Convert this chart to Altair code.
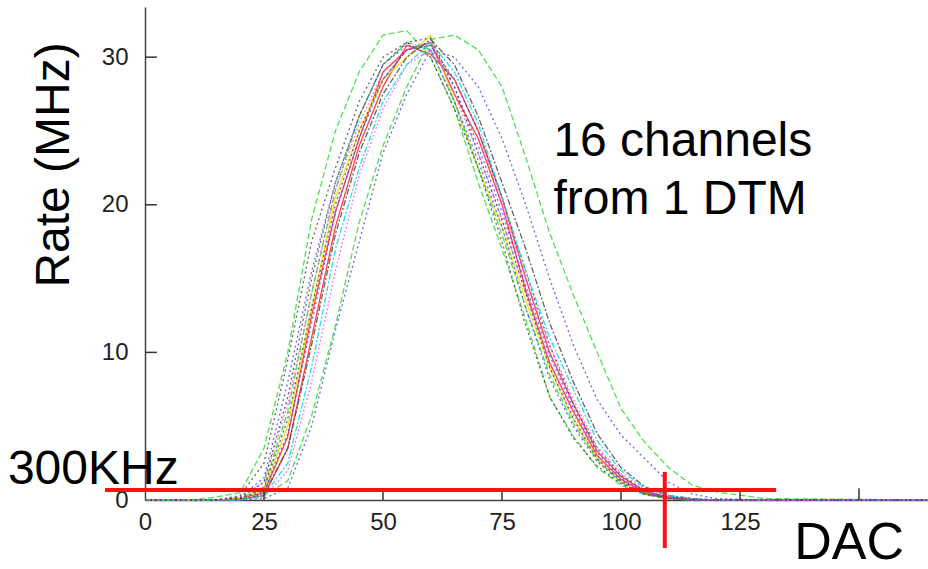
import altair as alt
import pandas as pd

# ---------------- data ----------------
DAC = [0, 10, 15, 20, 25, 30, 35, 40, 45, 50, 55, 60, 65, 70, 75, 80, 85, 90, 95, 100, 105, 110, 115, 120, 130, 165]

CH01 = [0, 0, 0, 0.1, 0.5, 4.3, 12.5, 19.5, 24.5, 29, 30.5, 31, 27.5, 24.5, 20, 14.2, 9.3, 6, 3, 1.4, 0.5, 0.15, 0.05, 0, 0, 0]
CH02 = [0, 0, 0, 0.05, 0.3, 3.5, 11, 18.5, 24, 28, 30.8, 30.2, 28.5, 25, 20.5, 15, 10, 6.5, 3.3, 1.6, 0.6, 0.2, 0.05, 0, 0, 0]
CH03 = [0, 0, 0, 0.1, 0.7, 5, 13, 20.5, 25, 28.5, 30, 31.5, 27, 22.5, 18.5, 13.5, 9, 5.5, 2.8, 1.2, 0.4, 0.1, 0, 0, 0, 0]
CH04 = [0, 0, 0.2, 0.5, 3.5, 10, 19, 25, 29, 31.5, 31.8, 30, 26.5, 21.5, 17, 12.2, 7, 4.3, 2.2, 1, 0.35, 0.1, 0, 0, 0, 0]
CH05 = [0, 0, 0, 0, 0.3, 1.3, 5.7, 11.8, 18.8, 24, 28, 31.2, 31.5, 30.5, 28, 23.2, 18.1, 13.9, 10, 6.2, 3.9, 2.2, 1, 0.55, 0.1, 0]
CH06 = [0, 0, 0, 0.1, 0.9, 6, 14, 21, 26, 29.5, 31, 30.5, 27, 22.5, 18, 13, 8.5, 5.2, 2.7, 1.2, 0.4, 0.1, 0, 0, 0, 0]
CH07 = [0, 0, 0, 0, 0.1, 0.8, 5, 11.5, 17.5, 23.5, 27.5, 30.5, 30, 28, 24.5, 20, 15, 10.5, 6.8, 4.4, 2.8, 1.2, 0.4, 0.1, 0, 0]
CH08 = [0, 0, 0, 0.2, 1.5, 8, 15.5, 21.5, 26, 29.5, 30.8, 30.5, 27, 23, 18.5, 13, 8.2, 5, 2.6, 1.2, 0.4, 0.1, 0, 0, 0, 0]
CH09 = [0, 0, 0, 0.1, 0.6, 4.5, 12, 19.5, 24.5, 28.5, 30.5, 30.8, 28, 24, 19.5, 14.5, 9.8, 6.2, 3.2, 1.5, 0.5, 0.15, 0, 0, 0, 0]
CH10 = [0, 0, 0, 0.3, 2.5, 9.5, 17.5, 22.5, 27, 30, 31, 30, 26.5, 22.5, 17.5, 11.8, 7, 4.2, 2.3, 1.1, 0.4, 0.1, 0, 0, 0, 0]
CH11 = [0, 0, 0, 0.1, 0.8, 5.5, 13, 20, 25, 28.5, 30.5, 30.8, 28.5, 25, 20.5, 15.5, 10.5, 6.5, 3.5, 1.7, 0.6, 0.2, 0.05, 0, 0, 0]
CH12 = [0, 0, 0, 0, 0.4, 3.5, 10.5, 18, 23.5, 27.5, 30, 31.2, 29.5, 26, 21.5, 17, 12, 8, 4.5, 2.2, 0.9, 0.3, 0.1, 0, 0, 0]
CH13 = [0, 0, 0, 0, 0.3, 2.5, 9, 17, 22.5, 27, 29.5, 31, 29, 25.5, 20.5, 15.5, 11, 7.5, 4, 2, 0.8, 0.3, 0.1, 0, 0, 0]
CH14 = [0, 0, 0, 0, 0.2, 2, 8, 15.5, 22, 26.5, 29.5, 30.5, 28.5, 25, 20, 15, 10.5, 6.8, 3.6, 1.8, 0.7, 0.2, 0.05, 0, 0, 0]
CH15 = [0, 0, 0, 0.2, 1.2, 6.5, 14, 21, 25.5, 29, 30.5, 31, 27.5, 23.5, 19, 14, 9.3, 5.8, 3, 1.4, 0.5, 0.15, 0, 0, 0, 0]
CH16 = [0, 0, 0, 0.15, 1.2, 7, 15, 21.5, 26, 29.5, 31, 31.3, 28, 23.5, 19, 14, 9, 5.5, 2.8, 1.3, 0.45, 0.12, 0, 0, 0, 0]

CHANNEL_NAMES = ["ch%02d" % i for i in range(1, 17)]
CHANNEL_VALUES = [CH01, CH02, CH03, CH04, CH05, CH06, CH07, CH08,
                  CH09, CH10, CH11, CH12, CH13, CH14, CH15, CH16]

Y_TICK_VALUES = [0, 10, 20, 30]
Y_INNER_TICKS = [10, 20, 30]
X_TICK_LABELS = [0, 25, 50, 75, 100, 125]
X_INNER_TICKS = [25, 50, 75, 100, 125, 150]

THRESHOLD_Y = 0.68        # 300 kHz line as drawn
THRESHOLD_X = 109.2       # DAC crossing marker

# ---------------- styles (kept apart from the data) ----------------
RED, YEL, GRN, BLU, BLK, CYN, MAG = "#ff2020", "#ecdc00", "#2fdc2f", "#4a4aff", "#4a4a4a", "#00d6ee", "#ff3cff"
SOLID, DASH, DOT, DASHDOT, FDOT = [1, 0], [6, 3], [2, 3], [6, 2, 2, 2], [1.5, 2.5]
STYLE = {
    "ch01": (RED, SOLID), "ch02": (RED, SOLID), "ch03": (YEL, SOLID),
    "ch04": (GRN, DASH), "ch05": (GRN, DASH), "ch06": (GRN, DASH),
    "ch07": (BLU, DOT), "ch08": (BLU, DOT), "ch09": (BLU, DOT),
    "ch10": (BLK, DOT), "ch11": (BLK, DOT), "ch12": (BLK, DASHDOT),
    "ch13": (CYN, DASHDOT), "ch14": (MAG, FDOT), "ch15": (MAG, FDOT),
    "ch16": (BLK, DOT),
}

frames = []
for name, vals in zip(CHANNEL_NAMES, CHANNEL_VALUES):
    frames.append(pd.DataFrame({"dac": DAC, "rate": vals, "channel": name}))
df = pd.concat(frames, ignore_index=True)

FONT = "Liberation Sans"
xs = alt.Scale(domain=[0, 164.5], nice=False, zero=False)
ys = alt.Scale(domain=[0, 33.4], nice=False, zero=False)

x_axis = alt.Axis(values=X_TICK_LABELS, ticks=False, grid=False, title=None,
                  labelFont=FONT, labelFontSize=24, labelColor="#222",
                  labelPadding=10, labelFlush=False,
                  domainColor="#444", domainWidth=1.5)
y_axis = alt.Axis(values=Y_TICK_VALUES, ticks=False, grid=False, title=None,
                  labelFont=FONT, labelFontSize=24, labelColor="#222",
                  labelPadding=17, labelFlush=False,
                  domainColor="#444", domainWidth=1.5)

lines = alt.Chart(df).mark_line(strokeWidth=1.3, opacity=0.85).encode(
    x=alt.X("dac:Q", scale=xs, axis=x_axis),
    y=alt.Y("rate:Q", scale=ys, axis=y_axis),
    color=alt.Color("channel:N", legend=None,
                    scale=alt.Scale(domain=CHANNEL_NAMES,
                                    range=[STYLE[c][0] for c in CHANNEL_NAMES])),
    strokeDash=alt.StrokeDash("channel:N", legend=None,
                              scale=alt.Scale(domain=CHANNEL_NAMES,
                                              range=[STYLE[c][1] for c in CHANNEL_NAMES])),
    order=alt.Order("dac:Q"),
)

# inward ticks
ytick_df = pd.DataFrame({"y": Y_INNER_TICKS, "x0": [0] * 3, "x1": [2.5] * 3})
yticks = alt.Chart(ytick_df).mark_rule(color="#333", strokeWidth=1.5).encode(
    x=alt.X("x0:Q", scale=xs), x2="x1:Q", y=alt.Y("y:Q", scale=ys))
xtick_df = pd.DataFrame({"x": X_INNER_TICKS, "y0": [0] * 6, "y1": [0.8] * 6})
xticks = alt.Chart(xtick_df).mark_rule(color="#333", strokeWidth=1.5).encode(
    x=alt.X("x:Q", scale=xs), y=alt.Y("y0:Q", scale=ys), y2="y1:Q")

# red threshold annotation
hline_df = pd.DataFrame({"x0": [-8.4], "x1": [132.6], "y": [THRESHOLD_Y]})
hline = alt.Chart(hline_df).mark_rule(color="#ff1010", strokeWidth=4).encode(
    x=alt.X("x0:Q", scale=xs), x2="x1:Q", y=alt.Y("y:Q", scale=ys))
vline_df = pd.DataFrame({"x": [THRESHOLD_X], "y0": [1.9], "y1": [-3.25]})
vline = alt.Chart(vline_df).mark_rule(color="#ff1010", strokeWidth=4).encode(
    x=alt.X("x:Q", scale=xs), y=alt.Y("y0:Q", scale=ys), y2="y1:Q")


def label(text, x, y, angle=0, align="left", baseline="alphabetic", size=46):
    d = pd.DataFrame({"x": [x], "y": [y], "t": [text]})
    return alt.Chart(d).mark_text(font=FONT, fontSize=size, color="black",
                                  align=align, baseline=baseline, angle=angle).encode(
        x=alt.X("x:Q", scale=xs), y=alt.Y("y:Q", scale=ys), text="t:N")


texts = [
    label("Rate (MHz)", -18.9, 22.7, angle=270, align="center", baseline="middle", size=48),
    label("300KHz", -28.8, 1.1, size=48),
    label("DAC", 136.4, -4.0, size=52),
    label("16 channels", 85.8, 23.3, size=48),
    label("from 1 DTM", 85.8, 19.4, size=48),
]

chart = alt.layer(lines, yticks, xticks, hline, vline, *texts).properties(
    width=783, height=493,
    autosize=alt.AutoSizeParams(type="none"),
    padding={"left": 145, "top": 7, "right": 0, "bottom": 69},
    background="white",
).configure_view(stroke=None)

chart.save("out.html", embed_options={"renderer": "svg", "actions": False})
